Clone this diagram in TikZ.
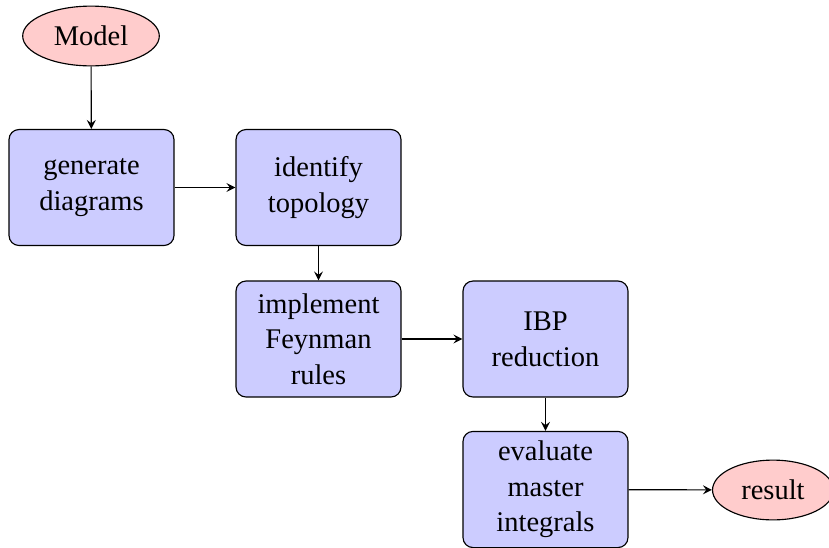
\documentclass[tikz,border=0pt]{standalone}
\usepackage{fontspec}
\setmainfont{Liberation Serif}
\newfontfamily\flowfont{Liberation Serif}
\usetikzlibrary{shapes.geometric}
\begin{document}
\begin{tikzpicture}[x=0.351pt, y=-0.351pt, font=\flowfont\fontsize{10}{12.5}\selectfont, line join=round, >=stealth,
	stage/.style={draw, fill=blue!20, rounded corners=3.5pt, align=center, minimum width=57.9pt, minimum height=40.7pt},
	term/.style={draw, ellipse, fill=red!20, inner sep=3.9pt}]
		\useasboundingbox (0,0) rectangle (829,547);
		\node[term] (model) at (91,36) {Model};
		\node[stage] (gen) at (91.5,187.5) {generate\\diagrams};
		\node[stage] (topo) at (318.5,187.5) {identify\\topology};
		\node[stage] (rules) at (318.5,339) {implement\\Feynman\\rules};
		\node[stage] (ibp) at (545.5,339) {IBP\\reduction};
		\node[stage] (mi) at (545.5,489.5) {evaluate\\master\\integrals};
		\node[term] (res) at (773,490) {result};
		% connections
		\draw[->] (model)--(gen);
		\draw[->] (gen)--(topo);
		\draw[->] (topo)--(rules);
		\draw[->] (rules)--(ibp);
		\draw[->] (ibp)--(mi);
		\draw[->] (mi)--(res);
	\end{tikzpicture}
\end{document}
